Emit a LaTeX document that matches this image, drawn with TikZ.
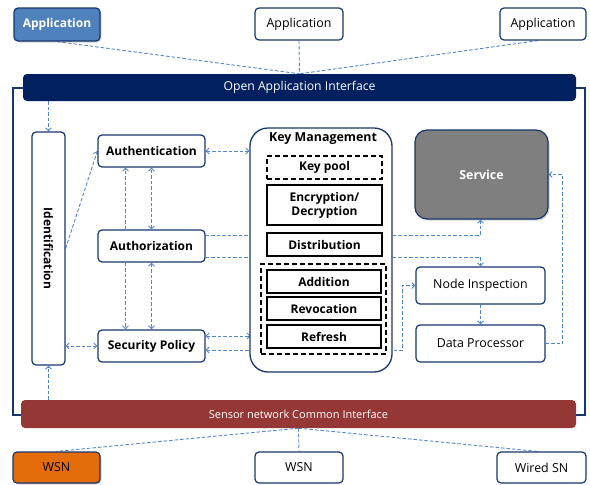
\documentclass[tikz,border=0pt]{standalone}
\usepackage{fontspec}
\setmainfont{Open Sans}
\usepackage{tikz}
\usetikzlibrary{arrows.meta,shadows}

\definecolor{navy}{RGB}{0,32,96}
\definecolor{boxline}{RGB}{23,54,110}
\definecolor{linkblue}{RGB}{84,134,202}
\definecolor{appblue}{RGB}{79,129,189}
\definecolor{sensred}{RGB}{149,55,53}
\definecolor{wsnorange}{RGB}{228,108,10}
\definecolor{servgray}{RGB}{127,127,127}

\pgfdeclarelayer{background}
\pgfsetlayers{background,main}

\begin{document}
\begin{tikzpicture}[x=1pt, y=-1pt,
		outerbox/.style={draw=boxline, line width=1.2pt, rounded corners=4pt, fill=white, inner sep=0pt},
		endbox/.style={outerbox, font=\fontsize{12.4}{14}\selectfont},
		modbox/.style={outerbox, font=\bfseries\fontsize{12}{14}\selectfont},
		keybox/.style={draw=black, line width=1.4pt, fill=white, inner sep=0pt, font=\bfseries\fontsize{12}{14}\selectfont, align=center},
		keydash/.style={dash pattern=on 5pt off 3pt},
		bar/.style={rounded corners=4pt, inner sep=0pt, text=white},
		shade/.style={drop shadow={opacity=0.35, shadow xshift=1.5pt, shadow yshift=-1.5pt}},
		link/.style={draw=linkblue, line width=0.9pt, dash pattern=on 3.5pt off 2pt},
		>={Straight Barb[length=3pt,width=6pt]}]
			\useasboundingbox (0,0) rectangle (590,485);
			
			\draw[boxline, line width=1.3pt] (13,88) rectangle (585,415);
			
			% top
			\node[endbox, shade, fill=appblue, text=white, font=\bfseries\fontsize{12}{14}\selectfont, minimum width=86pt, minimum height=33pt] (app1) at (57,24.5) {Application};
			\node[endbox, minimum width=88pt, minimum height=32pt] (app2) at (299,24) {Application};
			\node[endbox, minimum width=86pt, minimum height=32pt] (app3) at (543,24) {Application};
			\node[bar, fill=navy, font=\fontsize{12.2}{14}\selectfont, minimum width=553pt, minimum height=27pt] (openapi) at (299.5,87.5) {Open Application Interface};
			
			% security modules
			\node[outerbox, minimum width=33pt, minimum height=233pt, font=\bfseries\fontsize{12}{14}\selectfont] (ident) at (48.5,248.5) {\rotatebox{-90}{Identification}};
			\node[modbox, minimum width=107pt, minimum height=32pt] (authn) at (151.5,151) {Authentication};
			\node[modbox, minimum width=107pt, minimum height=32pt] (authz) at (151.5,246) {Authorization};
			\node[modbox, minimum width=107pt, minimum height=32pt] (secpol) at (151.5,346) {Security Policy};
			
			% key management
			\node[draw=boxline, line width=1.3pt, rounded corners=18pt, fill=white, minimum width=142pt, minimum height=244pt] (keymgmt) at (321,250) {};
			\node[font=\bfseries\fontsize{12.4}{14}\selectfont, inner sep=0pt] (kmtitle) at (323,139) {Key Management};
			\node[keybox, keydash, minimum width=115pt, minimum height=23pt] (keypool) at (324.5,167.5) {Key pool};
			\node[keybox, minimum width=115pt, minimum height=40pt] (encdec) at (324.5,205) {Encryption/\\Decryption};
			\node[keybox, minimum width=115pt, minimum height=23pt] (distrib) at (324.5,244.5) {Distribution};
			\node[draw=black, line width=1.4pt, keydash, minimum width=125pt, minimum height=90pt] (kmgroup) at (323.5,309) {};
			\node[keybox, minimum width=114pt, minimum height=23pt] (addition) at (324,281.5) {Addition};
			\node[keybox, minimum width=114pt, minimum height=23pt] (revoc) at (324,308.5) {Revocation};
			\node[keybox, minimum width=114pt, minimum height=23pt] (refresh) at (324,336.5) {Refresh};
			
			% right side
			\node[outerbox, shade, rounded corners=12pt, fill=servgray, text=white, font=\bfseries\fontsize{12.4}{14}\selectfont, minimum width=133pt, minimum height=89pt] (service) at (481.5,174.5) {Service};
			\node[endbox, minimum width=129pt, minimum height=37pt] (nodeinsp) at (480.5,285.5) {Node Inspection};
			\node[endbox, minimum width=129pt, minimum height=37pt] (dataproc) at (480.5,343.5) {Data Processor};
			
			% bottom
			\node[bar, fill=sensred, font=\fontsize{11}{13}\selectfont, minimum width=555pt, minimum height=28pt] (sencom) at (298.5,414) {Sensor network Common Interface};
			\node[endbox, shade, fill=wsnorange, minimum width=87pt, minimum height=31pt] (wsn1) at (56.5,467.5) {WSN};
			\node[endbox, minimum width=88pt, minimum height=31pt] (wsn2) at (299,467.5) {WSN};
			\node[endbox, minimum width=89pt, minimum height=31pt] (wiredsn) at (541.5,467.5) {Wired SN};
			
			\begin{pgfonlayer}{background}
			\draw[link] (app1.south) -- (openapi.north);
			\draw[link] (app2.south) -- (openapi.north);
			\draw[link] ([xshift=-5pt]app3.south) -- (openapi.north);
			\draw[link] (sencom.south) -- (wsn1.north);
			\draw[link] (sencom.south) -- (wsn2.north);
			\draw[link] (sencom.south) -- ([xshift=-4pt]wiredsn.north);
			
			\draw[link, ->] (ident.north |- openapi.south) -- (ident.north);
			\draw[link, ->] (ident.south |- sencom.north) -- (ident.south);
			\draw[link, ->] (ident.east) -- (authn.west);
			\draw[link, <->] (secpol.west) -- (ident.east |- secpol.west);
			
			\draw[link, ->] ([xshift=-26pt]authz.north) -- ([xshift=-26pt]authn.south);
			\draw[link, <->] (authz.north) -- (authn.south);
			\draw[link, ->] ([xshift=-26pt]authz.south) -- ([xshift=-26pt]secpol.north);
			\draw[link, <->] (authz.south) -- (secpol.north);
			
			\draw[link, <->] (authn.east) -- (keymgmt.west |- authn.east);
			\draw[link, ->] ([yshift=11pt]authz.east) -| ([xshift=-1pt]service.south);
			\draw[link, ->] ([yshift=-11pt]authz.east) -| (nodeinsp.north);
			\draw[link, <->] ([yshift=10pt]secpol.east) -- ++(45,0);
			\draw[link, <->] ([yshift=-4pt]secpol.east) -| ([xshift=-13pt]nodeinsp.west) -- (nodeinsp.west);
			
			\draw[link, ->] (nodeinsp.south) -- (dataproc.north);
			\draw[link, ->] (dataproc.east) -- ++(17,0) |- (service.east);
			\end{pgfonlayer}
		\end{tikzpicture}
\end{document}
